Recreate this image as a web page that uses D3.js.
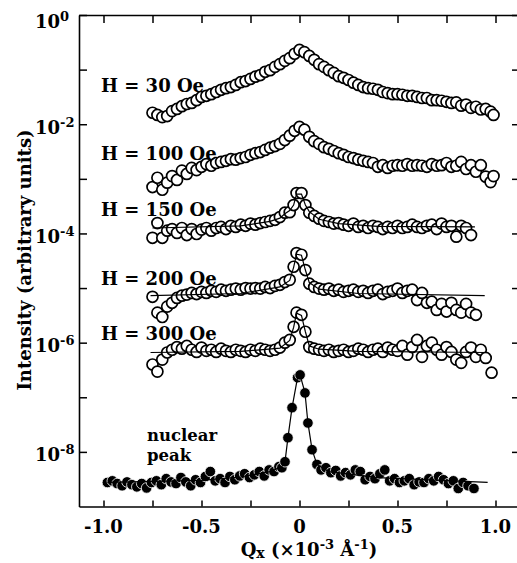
<!DOCTYPE html>
<html>
<head>
<meta charset="utf-8">
<script src="https://cdn.jsdelivr.net/npm/d3@7"></script>
<style>
  body { margin: 0; background: #fff; }
  text { font-family: "DejaVu Serif", serif; font-weight: bold; fill: #000; }
</style>
</head>
<body>
<svg id="chart" width="517" height="563"></svg>
<script>
// ---- Data: scattered intensity vs Qx, stored as log10(I) ----

// Shared Qx grid for the broad (30 Oe and 100 Oe) scans
const qBroad = [-0.75,-0.725,-0.7,-0.675,-0.65,-0.625,-0.6,-0.575,-0.55,-0.525,
  -0.5,-0.475,-0.45,-0.425,-0.4,-0.375,-0.35,-0.325,-0.3,-0.275,
  -0.25,-0.225,-0.2,-0.175,-0.15,-0.125,-0.1,-0.075,-0.05,-0.025,
  0,0.025,0.05,0.075,0.1,0.125,0.15,0.175,0.2,0.225,
  0.25,0.275,0.3,0.325,0.35,0.375,0.4,0.425,0.45,0.475,
  0.5,0.525,0.55,0.575,0.6,0.625,0.65,0.675,0.7,0.725,
  0.75,0.775,0.8,0.825,0.85,0.875,0.9,0.925,0.95,0.975,0.99];

const logI30 = [-1.79,-1.83,-1.87,-1.85,-1.76,-1.72,-1.67,-1.63,-1.61,-1.56,
  -1.50,-1.48,-1.45,-1.41,-1.37,-1.34,-1.32,-1.28,-1.23,-1.21,
  -1.17,-1.13,-1.10,-1.04,-1.01,-0.95,-0.90,-0.84,-0.79,-0.71,
  -0.64,-0.68,-0.75,-0.82,-0.90,-0.95,-1.01,-1.06,-1.12,-1.15,
  -1.19,-1.24,-1.28,-1.32,-1.34,-1.35,-1.37,-1.41,-1.43,-1.45,
  -1.45,-1.46,-1.48,-1.48,-1.50,-1.52,-1.52,-1.56,-1.56,-1.57,
  -1.59,-1.61,-1.60,-1.66,-1.64,-1.70,-1.68,-1.73,-1.72,-1.77,-1.83];

const logI100 = [-3.15,-2.98,-3.20,-3.07,-2.95,-3.02,-2.85,-2.91,-2.80,-2.84,
  -2.78,-2.73,-2.76,-2.71,-2.69,-2.67,-2.64,-2.65,-2.62,-2.60,
  -2.56,-2.53,-2.51,-2.47,-2.43,-2.40,-2.36,-2.29,-2.21,-2.12,
  -2.05,-2.10,-2.23,-2.31,-2.36,-2.42,-2.45,-2.49,-2.53,-2.56,
  -2.60,-2.62,-2.65,-2.67,-2.69,-2.71,-2.78,-2.75,-2.80,-2.76,
  -2.75,-2.76,-2.73,-2.76,-2.75,-2.76,-2.78,-2.73,-2.76,-2.75,
  -2.71,-2.78,-2.76,-2.69,-2.82,-2.75,-2.87,-2.75,-2.96,-3.06,-2.95];

// Qx grid for the sharp-peak scans (150, 200, 300 Oe)
const qSharp = [-0.75,-0.725,-0.7,-0.675,-0.65,-0.625,-0.6,-0.575,-0.55,-0.525,
  -0.5,-0.475,-0.45,-0.425,-0.4,-0.375,-0.35,-0.325,-0.3,-0.275,
  -0.25,-0.225,-0.2,-0.175,-0.15,-0.125,-0.1,-0.075,-0.05,
  -0.03,-0.015,0.01,0.03,
  0.05,0.075,0.1,0.125,0.15,0.175,0.2,0.225,0.25,0.275,
  0.3,0.325,0.35,0.375,0.4,0.425,0.45,0.475,0.5,0.525,
  0.55,0.575,0.6,0.625,0.65,0.675,0.7,0.725,0.75,0.775,
  0.8,0.825,0.85,0.875];
const q200Tail = [0.9];
const q300Tail = [0.9,0.925,0.95,0.98];

const logI150 = [-4.08,-3.81,-4.08,-3.95,-3.92,-3.99,-3.90,-4.03,-3.92,-4.01,
  -3.93,-3.90,-3.95,-3.90,-3.88,-3.92,-3.86,-3.88,-3.84,-3.86,
  -3.82,-3.84,-3.81,-3.79,-3.77,-3.75,-3.70,-3.62,-3.61,
  -3.48,-3.26,-3.26,-3.48,
  -3.62,-3.68,-3.73,-3.77,-3.79,-3.82,-3.81,-3.84,-3.86,-3.82,
  -3.88,-3.86,-3.90,-3.86,-3.88,-3.92,-3.88,-3.90,-3.86,-3.90,
  -3.88,-3.84,-3.88,-3.90,-3.86,-3.84,-3.92,-3.82,-3.88,-3.86,
  -4.06,-3.86,-3.90,-4.03];

const logI200 = [-5.16,-5.45,-5.53,-5.34,-5.27,-5.18,-5.14,-5.12,-5.09,-5.11,
  -5.07,-5.09,-5.05,-5.07,-5.03,-5.05,-5.03,-5.01,-5.03,-5.00,
  -5.01,-5.00,-5.01,-4.98,-5.00,-4.96,-4.94,-4.89,-4.85,
  -4.61,-4.36,-4.39,-4.67,
  -4.92,-4.98,-5.01,-5.03,-5.01,-5.05,-5.03,-5.07,-5.05,-5.03,
  -5.07,-5.05,-5.09,-5.05,-5.03,-5.11,-5.07,-5.05,-5.01,-5.09,
  -5.05,-5.03,-5.22,-5.09,-5.27,-5.25,-5.40,-5.29,-5.43,-5.27,
  -5.40,-5.45,-5.29,-5.45,
  -5.49];

const logI300 = [-6.40,-6.53,-6.31,-6.18,-6.13,-6.08,-6.11,-6.06,-6.13,-6.17,
  -6.09,-6.15,-6.13,-6.17,-6.11,-6.15,-6.17,-6.13,-6.15,-6.17,
  -6.13,-6.15,-6.11,-6.13,-6.15,-6.13,-6.09,-6.00,-5.95,
  -5.71,-5.45,-5.49,-5.80,
  -6.08,-6.11,-6.13,-6.15,-6.13,-6.17,-6.15,-6.13,-6.17,-6.15,
  -6.11,-6.13,-6.17,-6.13,-6.11,-6.17,-6.09,-6.13,-6.15,-6.06,
  -6.22,-6.08,-5.95,-6.26,-6.06,-6.00,-6.13,-6.22,-6.08,-6.17,
  -6.31,-6.37,-6.17,-6.09,
  -6.26,-6.13,-6.28,-6.55];

// Nuclear (structural) peak
const qNuc = [-0.98,-0.955,-0.93,-0.905,-0.88,-0.855,-0.83,-0.805,-0.78,-0.755,
  -0.73,-0.705,-0.68,-0.655,-0.63,-0.605,-0.58,-0.555,-0.53,-0.505,
  -0.48,-0.455,-0.43,-0.405,-0.38,-0.355,-0.33,-0.305,-0.28,-0.255,
  -0.23,-0.205,-0.18,-0.155,-0.13,-0.105,-0.09,-0.074,-0.059,-0.038,
  -0.01,0.003,0.028,0.043,0.064,0.089,0.11,0.135,0.16,0.185,
  0.21,0.235,0.26,0.285,0.31,0.335,0.36,0.385,0.41,0.435,
  0.46,0.485,0.51,0.535,0.56,0.585,0.61,0.635,0.66,0.685,
  0.71,0.735,0.76,0.785,0.81,0.835,0.86,0.89];
const logINuc = [-8.56,-8.53,-8.58,-8.62,-8.55,-8.60,-8.64,-8.58,-8.66,-8.56,
  -8.53,-8.60,-8.49,-8.55,-8.58,-8.47,-8.55,-8.62,-8.51,-8.56,
  -8.45,-8.36,-8.53,-8.49,-8.56,-8.45,-8.51,-8.44,-8.40,-8.47,
  -8.42,-8.36,-8.44,-8.33,-8.36,-8.27,-8.29,-8.18,-7.74,-7.19,
  -6.64,-6.59,-6.92,-7.47,-7.96,-8.23,-8.33,-8.29,-8.38,-8.34,
  -8.44,-8.38,-8.42,-8.33,-8.36,-8.51,-8.45,-8.49,-8.40,-8.33,
  -8.53,-8.49,-8.56,-8.53,-8.49,-8.60,-8.55,-8.56,-8.49,-8.53,
  -8.45,-8.51,-8.58,-8.53,-8.67,-8.56,-8.62,-8.67];

// Fitted curves (Qx, log10 I)
const fit150Q = [-0.75,-0.3,-0.15,-0.1,-0.075,-0.05,-0.03,-0.015,0.01,0.03,0.05,0.1,0.2,0.4,0.895];
const fit150L = [-3.90,-3.86,-3.78,-3.72,-3.64,-3.58,-3.48,-3.28,-3.28,-3.48,-3.60,-3.74,-3.82,-3.87,-3.88];
const fit200Q = [-0.76,-0.3,-0.1,-0.05,-0.03,-0.015,0.01,0.03,0.05,0.1,0.3,0.945];
const fit200L = [-5.14,-5.10,-4.98,-4.86,-4.62,-4.38,-4.40,-4.67,-4.90,-5.02,-5.10,-5.14];
const fit300Q = [-0.76,-0.3,-0.1,-0.05,-0.03,-0.015,0.01,0.03,0.05,0.1,0.3,0.95];
const fit300L = [-6.18,-6.16,-6.10,-5.96,-5.72,-5.46,-5.50,-5.80,-6.06,-6.12,-6.16,-6.18];
const fitNucQ = [-0.98,-0.5,-0.3,-0.15,-0.09,-0.074,-0.059,-0.038,-0.01,0.003,0.028,0.043,0.064,0.089,0.15,0.4,0.96];
const fitNucL = [-8.56,-8.52,-8.46,-8.36,-8.27,-8.18,-7.74,-7.19,-6.64,-6.59,-6.92,-7.47,-7.96,-8.23,-8.36,-8.47,-8.56];

// Curve annotations
const curveLabels = ["H = 30 Oe","H = 100 Oe","H = 150 Oe","H = 200 Oe","H = 300 Oe"];
const nuclearLabel = ["nuclear", "peak"];

// Axis ticks
const xMajor = [-1, -0.5, 0, 0.5, 1];
const xMajorLabels = ["-1.0", "-0.5", "0", "0.5", "1.0"];
const xMinor = [-0.75, -0.25, 0.25, 0.75];
const yDecades = [0, -1, -2, -3, -4, -5, -6, -7, -8];
const yLabelExps = [0, -2, -4, -6, -8];

// ---- Drawing ----
const svg = d3.select("#chart");
const plotL = 79, plotR = 520, plotT = 15, plotB = 506.5;
const x = d3.scaleLinear().domain([-1.125, 1.125]).range([plotL, plotR]);
const y = d3.scaleLog().domain([1e-9, 1]).range([plotB, plotT]);
const pow = L => Math.pow(10, L);

function zipSeries(qs, ls) { return qs.map((q, i) => ({ q, I: pow(ls[i]) })); }

const series = [
  { pts: zipSeries(qBroad, logI30), filled: false },
  { pts: zipSeries(qBroad, logI100), filled: false },
  { pts: zipSeries(qSharp, logI150), filled: false, fit: zipSeries(fit150Q, fit150L) },
  { pts: zipSeries(qSharp.concat(q200Tail), logI200), filled: false, fit: zipSeries(fit200Q, fit200L) },
  { pts: zipSeries(qSharp.concat(q300Tail), logI300), filled: false, fit: zipSeries(fit300Q, fit300L) },
  { pts: zipSeries(qNuc, logINuc), filled: true, fit: zipSeries(fitNucQ, fitNucL) }
];

// Axes: ticks point inward on all four sides
const axStyle = g => {
  g.selectAll(".domain").attr("stroke", "#000").attr("stroke-width", 1.6);
  g.selectAll(".tick line").attr("stroke", "#000").attr("stroke-width", 1.5);
  g.selectAll(".tick text").remove();
};
svg.append("g").attr("transform", `translate(0,${plotB})`)
  .call(d3.axisBottom(x).tickValues(xMajor.concat(xMinor)).tickSizeInner(-6).tickSizeOuter(0))
  .call(axStyle);
svg.append("g").attr("transform", `translate(0,${plotT})`)
  .call(d3.axisTop(x).tickValues(xMajor.concat(xMinor)).tickSizeInner(-8).tickSizeOuter(0))
  .call(axStyle);
svg.append("g").attr("transform", `translate(${plotL},0)`)
  .call(d3.axisLeft(y).tickValues(yDecades.map(pow)).tickSizeInner(-8).tickSizeOuter(0))
  .call(axStyle);
svg.append("g").attr("transform", `translate(${plotR},0)`)
  .call(d3.axisRight(y).tickValues(yDecades.map(pow)).tickSizeInner(-8).tickSizeOuter(0))
  .call(axStyle);

// X tick labels
svg.selectAll("text.xtl").data(xMajor).join("text")
  .attr("class", "xtl")
  .attr("x", d => x(d)).attr("y", plotB + 26)
  .attr("text-anchor", "middle").attr("font-size", 18)
  .text((d, i) => xMajorLabels[i]);

// Y tick labels: 10 with superscript exponent
const ytl = svg.selectAll("text.ytl").data(yLabelExps).join("text")
  .attr("class", "ytl")
  .attr("x", 35).attr("y", d => Math.max(y(pow(d)) + 9.5, 28))
  .attr("font-size", 18);
ytl.append("tspan").text("10");
ytl.append("tspan").attr("font-size", 13).attr("dy", -7).text(d => String(d));

// Data markers, then fitted lines
const line = d3.line().x(d => x(d.q)).y(d => y(d.I));
series.forEach(s => {
  const g = svg.append("g");
  g.selectAll("circle").data(s.pts).join("circle")
    .attr("cx", d => x(d.q)).attr("cy", d => y(d.I))
    .attr("r", s.filled ? 5.3 : 5.5)
    .attr("fill", s.filled ? "#000" : "#fff")
    .attr("stroke", s.filled ? "#fff" : "#000")
    .attr("stroke-width", s.filled ? 0.8 : 1.7);
  if (s.fit) {
    g.append("path").datum(s.fit)
      .attr("d", line).attr("fill", "none")
      .attr("stroke", "#000").attr("stroke-width", 1.2);
  }
});

// Curve annotations
svg.selectAll("text.cl").data(curveLabels).join("text")
  .attr("class", "cl")
  .attr("x", 101).attr("y", (d, i) => [92, 160, 216, 285, 340][i])
  .attr("font-size", 18).text(d => d);

svg.selectAll("text.nl").data(nuclearLabel).join("text")
  .attr("class", "nl")
  .attr("x", 147).attr("y", (d, i) => 441 + i * 19.5)
  .attr("font-size", 16.5).text(d => d);

// Axis titles
svg.append("text")
  .attr("transform", "translate(31,260) rotate(-90)")
  .attr("text-anchor", "middle").attr("font-size", 18)
  .text("Intensity (arbitrary units)");

const xt = svg.append("text").attr("x", 309).attr("y", 556)
  .attr("text-anchor", "middle").attr("font-size", 18);
xt.append("tspan").text("Q");
xt.append("tspan").attr("font-size", 14).attr("dy", 2).text("x");
xt.append("tspan").attr("dy", -2).text(" (\u00D710");
xt.append("tspan").attr("font-size", 13).attr("dy", -7).text("-3");
xt.append("tspan").attr("dy", 7).text(" \u00C5");
xt.append("tspan").attr("font-size", 13).attr("dy", -7).text("-1");
xt.append("tspan").attr("dy", 7).text(")");
</script>
</body>
</html>
